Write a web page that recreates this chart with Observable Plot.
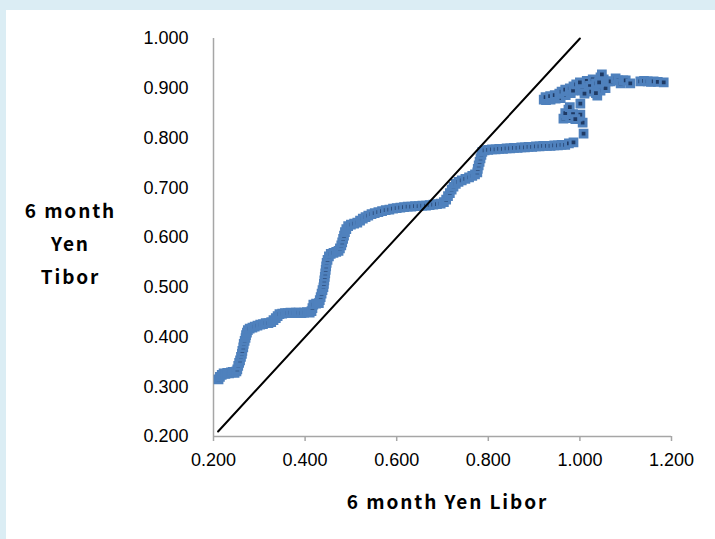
<!DOCTYPE html>
<html><head><meta charset="utf-8">
<script src="https://cdn.jsdelivr.net/npm/d3@7"></script>
<script src="https://cdn.jsdelivr.net/npm/@observablehq/plot@0.6"></script>
<style>
html,body{margin:0;padding:0;background:#dbedf4;width:715px;height:539px;overflow:hidden;}
#panel{position:absolute;left:6px;top:10px;width:709px;height:529px;background:#fff;}
</style></head><body><div id="panel"></div>
<script>
// 6 month Yen Libor (x) vs 6 month Yen Tibor (y)
const libor = [
0.211,0.214,0.218,0.222,0.226,0.230,0.234,0.238,0.242,0.246,0.250,
0.252,0.254,0.256,0.258,0.260,0.262,0.263,0.265,0.266,0.268,0.270,0.271,0.273,0.275,0.279,
0.285,0.290,0.296,0.302,0.308,0.314,0.320,0.326,0.331,0.336,0.340,0.344,0.350,0.356,0.362,0.368,0.374,0.380,0.386,0.392,0.398,0.404,0.410,0.414,
0.416,0.418,0.424,0.430,0.432,0.434,0.436,0.438,0.440,0.441,0.442,0.443,0.444,0.445,0.446,0.447,0.449,0.452,0.456,0.462,0.468,0.473,0.476,0.479,0.481,0.483,0.485,0.487,0.490,0.494,
0.500,0.507,0.514,0.520,0.526,0.532,0.538,0.545,0.552,0.560,0.568,0.576,0.584,0.592,0.600,0.608,0.616,0.624,0.632,0.640,0.648,0.656,0.664,0.672,0.680,0.688,0.696,
0.703,0.708,0.712,0.716,0.720,0.724,0.729,0.735,0.742,0.750,0.758,0.765,0.771,0.776,0.777,0.779,0.781,0.783,0.785,0.787,0.792,
0.800,0.808,0.816,0.824,0.832,0.840,0.848,0.856,0.864,0.872,0.880,0.888,0.896,0.904,0.912,0.920,0.928,0.936,0.944,0.952,0.960,0.968,0.976,0.986,
1.008,1.006,
0.995,0.964,0.975,0.970,0.980,1.001,1.001,0.968,0.985,0.990,0.978,
0.921,0.926,0.931,0.936,0.942,0.947,0.953,0.958,0.964,0.969,0.975,0.980,0.986,0.990,0.997,1.001,1.008,1.012,1.019,1.025,1.030,1.038,1.040,1.045,1.045,1.050,1.052,1.056,1.062,1.067,1.078,1.084,1.089,1.095,1.100,1.110,1.132,1.140,1.148,1.155,1.161,1.170,1.183,
0.925,0.935,0.945,0.955,0.960,0.968,0.978,0.985,0.992,1.000,1.005,1.015,1.022,1.028,1.035,1.042,1.048,1.035,1.020,1.010
];
const tibor = [
0.315,0.320,0.324,0.327,0.326,0.328,0.327,0.329,0.330,0.328,0.331,
0.335,0.342,0.348,0.353,0.360,0.366,0.372,0.379,0.386,0.392,0.398,0.404,0.409,0.414,0.417,
0.419,0.421,0.423,0.425,0.426,0.428,0.428,0.430,0.434,0.438,0.442,0.446,0.447,0.448,0.448,0.449,0.448,0.449,0.449,0.448,0.449,0.450,0.449,0.452,
0.458,0.465,0.467,0.468,0.474,0.480,0.487,0.494,0.500,0.507,0.514,0.521,0.528,0.535,0.542,0.549,0.555,0.562,0.567,0.569,0.571,0.573,0.578,0.584,0.590,0.597,0.604,0.611,0.617,0.623,
0.626,0.628,0.630,0.634,0.638,0.641,0.644,0.647,0.649,0.651,0.653,0.655,0.656,0.658,0.659,0.660,0.661,0.662,0.662,0.663,0.663,0.664,0.664,0.665,0.666,0.667,0.668,
0.671,0.676,0.683,0.689,0.696,0.702,0.708,0.712,0.715,0.718,0.721,0.724,0.727,0.731,0.738,0.745,0.752,0.759,0.766,0.772,0.775,
0.776,0.777,0.777,0.778,0.778,0.779,0.779,0.780,0.780,0.781,0.781,0.782,0.782,0.783,0.783,0.784,0.784,0.784,0.785,0.785,0.786,0.786,0.789,0.791,
0.809,0.831,
0.843,0.839,0.857,0.845,0.840,0.847,0.869,0.850,0.848,0.838,0.862,
0.877,0.876,0.878,0.877,0.881,0.879,0.883,0.880,0.889,0.886,0.895,0.890,0.904,0.896,0.906,0.900,0.910,0.903,0.908,0.898,0.912,0.885,0.905,0.895,0.922,0.915,0.918,0.900,0.914,0.914,0.920,0.916,0.910,0.916,0.916,0.910,0.914,0.915,0.914,0.913,0.914,0.913,0.912,
0.882,0.884,0.886,0.889,0.893,0.897,0.900,0.895,0.908,0.912,0.895,0.915,0.905,0.918,0.910,0.912,0.928,0.890,0.893,0.889
];
const xTicks = [0.2, 0.4, 0.6, 0.8, 1.0, 1.2];
const yTicks = [0.2, 0.3, 0.4, 0.5, 0.6, 0.7, 0.8, 0.9, 1.0];
const diagonalEnds = [0.21, 1.0];
const xTitle = "6 month Yen Libor";
const yTitle = "6 month\nYen\nTibor";

const points = libor.map((x, i) => ({x, y: tibor[i]}));
const diag = diagonalEnds.map(v => ({x: v, y: v}));
const fmt = d3.format(".3f");

const chart = Plot.plot({
  width: 709, height: 529,
  marginLeft: 207, marginRight: 44, marginTop: 28, marginBottom: 103,
  x: {domain: [0.2, 1.2]},
  y: {domain: [0.2, 1.0]},
  style: {background: "transparent", fontFamily: "'Liberation Sans', Arial, sans-serif", fontSize: "18px", color: "#000", overflow: "visible"},
  marks: [
    Plot.ruleX([0.2], {stroke: "#a6a6a6", strokeWidth: 1.5}),
    Plot.ruleY([0.2], {stroke: "#a6a6a6", strokeWidth: 1.5}),
    Plot.axisX({ticks: xTicks, tickSize: 5, tickPadding: 12, tickFormat: fmt, stroke: "#a6a6a6", strokeWidth: 1.5, label: null, fontSize: 18}),
    Plot.axisY({ticks: yTicks, tickSize: 0, tickPadding: 25, tickFormat: fmt, label: null, fontSize: 18}),
    Plot.dot(points, {x: "x", y: "y", symbol: "square", r: 3.8, fill: "#1f3a64", stroke: "#4f81bd", strokeWidth: 3}),
    Plot.line(diag, {x: "x", y: "y", stroke: "#000", strokeWidth: 2}),
    Plot.text([xTitle], {frameAnchor: "bottom", lineAnchor: "middle", dx: 5, dy: 66, fontWeight: "bold", fontSize: 19, fontFamily: "'Noto Sans CJK JP', 'Noto Sans', sans-serif"}),
    Plot.text([yTitle], {frameAnchor: "left", textAnchor: "middle", lineAnchor: "middle", lineHeight: 1.72, dx: -143, dy: 3, fontWeight: "bold", fontSize: 19, fontFamily: "'Noto Sans CJK JP', 'Noto Sans', sans-serif"})
  ]
});
d3.select(chart).selectAll("g[aria-label='text'] text").attr("letter-spacing", "1.9px");
document.getElementById("panel").appendChild(chart);
</script>
</body></html>
